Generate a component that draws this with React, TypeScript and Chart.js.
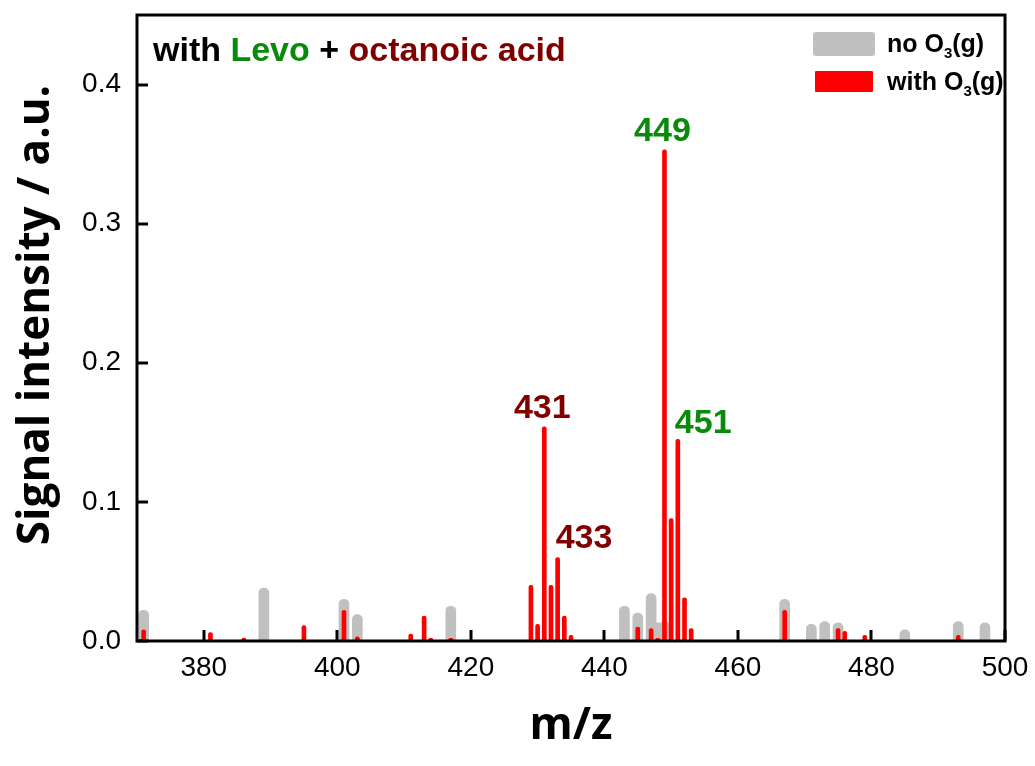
import React, { useEffect, useRef } from "react";
import { Chart, registerables } from "chart.js";

Chart.register(...registerables);

// m/z positions and signal intensities (a.u.)
const mzNoO3 = [371, 389, 401, 403, 417, 443, 445, 447, 448, 449, 467, 471, 473, 475, 485, 493, 497];
const intensityNoO3 = [0.022, 0.038, 0.03, 0.019, 0.025, 0.025, 0.02, 0.034, 0.013, 0.014, 0.03, 0.012, 0.014, 0.013, 0.008, 0.014, 0.013];

const mzWithO3 = [371, 381, 386, 395, 401, 403, 411, 413, 414, 417, 429, 430, 431, 432, 433, 434, 435, 445, 447, 448, 449, 450, 451, 452, 453, 467, 475, 476, 479, 493];
const intensityWithO3 = [0.008, 0.006, 0.002, 0.011, 0.022, 0.003, 0.005, 0.018, 0.002, 0.002, 0.04, 0.012, 0.154, 0.04, 0.06, 0.018, 0.004, 0.01, 0.009, 0.002, 0.353, 0.088, 0.145, 0.031, 0.009, 0.022, 0.009, 0.007, 0.004, 0.004];

const xTickValues = [380, 400, 420, 440, 460, 480, 500];
const yTickValues = [0, 0.1, 0.2, 0.3, 0.4];

const peakLabels = ["431", "433", "449", "451"];
const peakMz = [431, 433, 449, 451];

const titleParts = ["with ", "Levo", " + ", "octanoic acid"];
const legendNames = [["no O", "3", "(g)"], ["with O", "3", "(g)"]];

const xTitle = "m/z";
const yTitle = "Signal intensity / a.u.";

const GREEN = "#0a8a0a";
const DARKRED = "#800000";
const GRAY = "#c0c0c0";
const RED = "#ff0000";

const titleColors = ["#000000", GREEN, "#000000", DARKRED];
const peakColors = [DARKRED, DARKRED, GREEN, GREEN];
// label placement relative to the bar top: [align, dx, dy]
const peakPlacement: [CanvasTextAlign, number, number][] = [
  ["center", -2, -9],
  ["left", -2, -10],
  ["center", -2, -9],
  ["left", -3, -6],
];

const overlayPlugin = {
  id: "overlay",
  afterDatasetsDraw(chart: any) {
    const { ctx, chartArea, scales } = chart;
    const { left, right, top, bottom } = chartArea;
    const xs = scales.x;
    const ys = scales.y;
    ctx.save();

    // inward ticks
    ctx.strokeStyle = "#000";
    ctx.lineWidth = 3;
    ctx.lineCap = "butt";
    xTickValues.forEach((v) => {
      const px = Math.round(xs.getPixelForValue(v));
      ctx.beginPath();
      ctx.moveTo(px, bottom);
      ctx.lineTo(px, bottom - 11);
      ctx.stroke();
    });
    yTickValues.forEach((v) => {
      const py = Math.round(ys.getPixelForValue(v));
      ctx.beginPath();
      ctx.moveTo(left, py);
      ctx.lineTo(left + 11, py);
      ctx.stroke();
    });

    // frame
    ctx.lineWidth = 3;
    ctx.strokeRect(left, top, right - left, bottom - top);

    // title
    ctx.font = "bold 34px 'Liberation Sans', Arial, sans-serif";
    ctx.textBaseline = "alphabetic";
    ctx.textAlign = "left";
    let tx = left + 16;
    const ty = top + 46;
    titleParts.forEach((t, i) => {
      ctx.fillStyle = titleColors[i];
      ctx.fillText(t, tx, ty);
      tx += ctx.measureText(t).width;
    });

    // peak labels
    ctx.font = "bold 34px 'Liberation Sans', Arial, sans-serif";
    peakLabels.forEach((lab, i) => {
      const idx = mzWithO3.indexOf(peakMz[i]);
      const px = xs.getPixelForValue(peakMz[i]);
      const py = ys.getPixelForValue(intensityWithO3[idx]);
      const [align, dx, dy] = peakPlacement[i];
      ctx.textAlign = align;
      ctx.fillStyle = peakColors[i];
      ctx.fillText(lab, px + dx, py + dy);
    });

    // legend
    const boxColors = [GRAY, RED];
    legendNames.forEach((parts, i) => {
      const by = top + 17 + i * 38;
      ctx.fillStyle = boxColors[i];
      ctx.beginPath();
      if (i === 0) {
        (ctx as any).roundRect(right - 192, by, 62, 24, 3);
      } else {
        (ctx as any).roundRect(right - 190, by + 1, 58, 21, 1);
      }
      ctx.fill();
      ctx.fillStyle = "#000";
      ctx.textAlign = "left";
      let lx = right - 118;
      const ly = by + 20;
      ctx.font = "bold 25px 'Liberation Sans', Arial, sans-serif";
      ctx.fillText(parts[0], lx, ly);
      lx += ctx.measureText(parts[0]).width;
      ctx.font = "bold 15px 'Liberation Sans', Arial, sans-serif";
      ctx.fillText(parts[1], lx, ly + 6);
      lx += ctx.measureText(parts[1]).width;
      ctx.font = "bold 25px 'Liberation Sans', Arial, sans-serif";
      ctx.fillText(parts[2], lx, ly);
    });

    // axis titles
    ctx.fillStyle = "#000";
    ctx.font = "bold 44px 'Open Sans', sans-serif";
    ctx.textAlign = "center";
    ctx.textBaseline = "middle";
    ctx.fillText(xTitle, (left + right) / 2, 726);
    ctx.save();
    ctx.translate(36, (top + bottom) / 2 - 13);
    ctx.rotate(-Math.PI / 2);
    ctx.fillText(yTitle, 0, 0);
    ctx.restore();

    ctx.restore();
  },
};

export default function App() {
  const canvasRef = useRef<HTMLCanvasElement | null>(null);

  useEffect(() => {
    if (!canvasRef.current) return;
    const chart = new Chart(canvasRef.current, {
      type: "bar",
      data: {
        datasets: [
          {
            label: "with O3(g)",
            data: mzWithO3.map((m, i) => ({ x: m, y: intensityWithO3[i] })),
            backgroundColor: RED,
            barThickness: 4,
            borderRadius: 2,
            borderSkipped: "start",
            grouped: false,
            order: 0,
          } as any,
          {
            label: "no O3(g)",
            data: mzNoO3.map((m, i) => ({ x: m, y: intensityNoO3[i] })),
            backgroundColor: GRAY,
            barThickness: 10,
            borderRadius: 5,
            borderSkipped: "start",
            grouped: false,
            order: 1,
          } as any,
        ],
      },
      options: {
        animation: false,
        responsive: false,
        devicePixelRatio: 1,
        layout: { padding: { left: 0, right: 30, top: 15, bottom: 0 } },
        plugins: {
          legend: { display: false },
          tooltip: { enabled: false },
        },
        scales: {
          x: {
            type: "linear",
            min: 370,
            max: 500,
            offset: false,
            grid: { display: false, drawTicks: false, offset: false },
            border: { display: false },
            afterBuildTicks: (scale: any) => {
              scale.ticks = xTickValues.map((v) => ({ value: v }));
            },
            afterFit: (scale: any) => {
              scale.height = 125;
              scale.paddingLeft = 0;
              scale.paddingRight = 0;
            },
            ticks: {
              color: "#000",
              padding: 10,
              maxRotation: 0,
              font: { family: "'Liberation Sans', Arial, sans-serif", size: 28 },
              callback: (v: any) => String(v),
            },
          },
          y: {
            type: "linear",
            min: 0,
            max: 0.45,
            grid: { display: false, drawTicks: false },
            border: { display: false },
            afterBuildTicks: (scale: any) => {
              scale.ticks = yTickValues.map((v) => ({ value: v }));
            },
            afterFit: (scale: any) => {
              scale.width = 137;
              scale.paddingTop = 0;
              scale.paddingBottom = 0;
            },
            ticks: {
              color: "#000",
              padding: 16,
              font: { family: "'Liberation Sans', Arial, sans-serif", size: 28 },
              callback: (v: any) => Number(v).toFixed(1),
            },
          },
        },
      },
      plugins: [overlayPlugin],
    });
    return () => chart.destroy();
  }, []);

  return (
    <div style={{ position: "absolute", left: 0, top: 0, width: 1035, height: 766, background: "#fff" }}>
      <canvas ref={canvasRef} width={1035} height={766} style={{ display: "block" }} />
    </div>
  );
}
